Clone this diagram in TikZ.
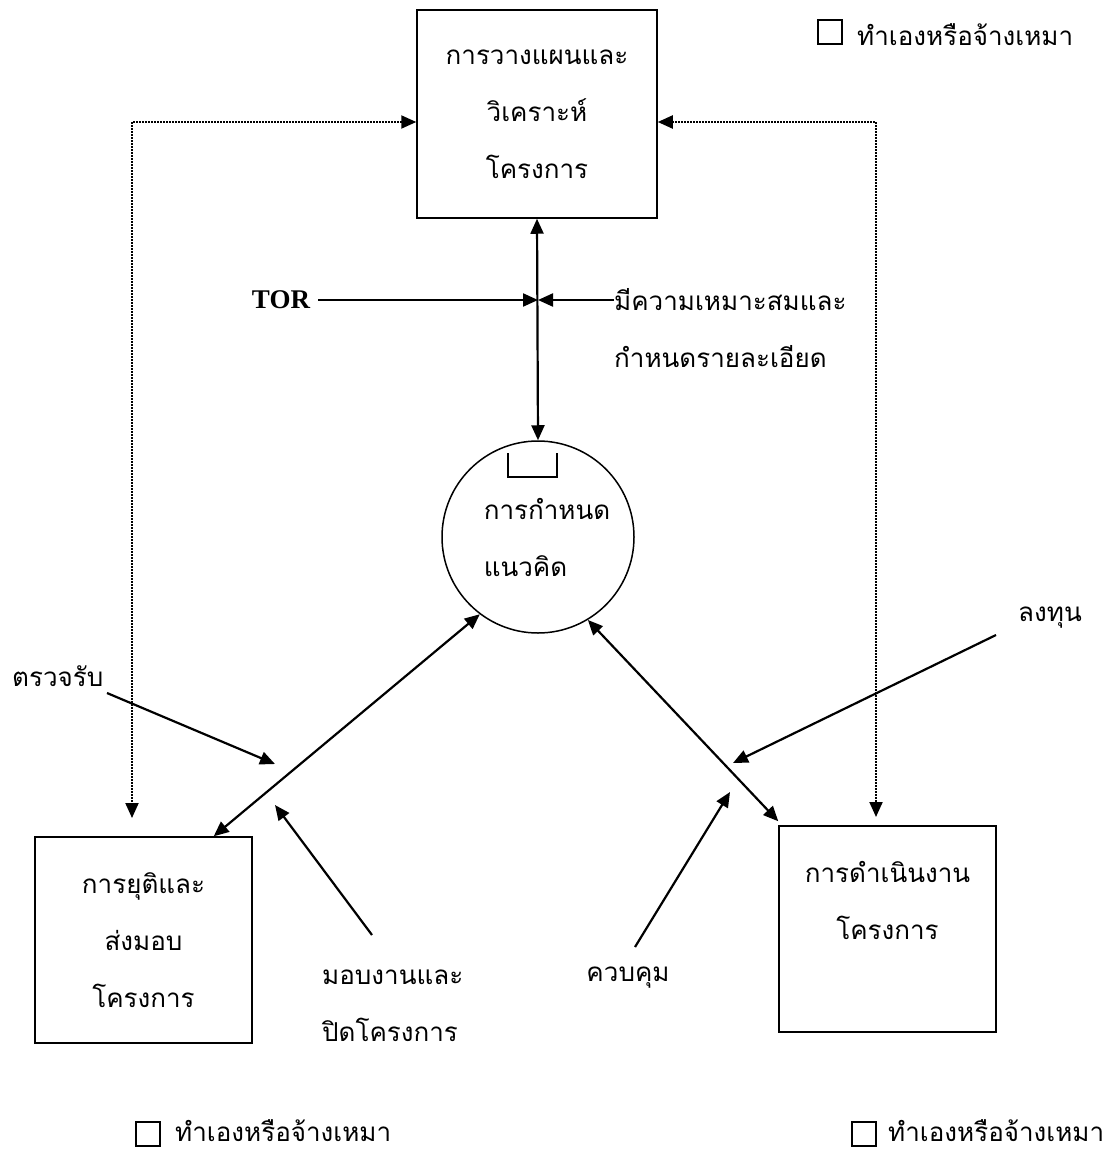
\documentclass[tikz,border=0pt]{standalone}
\usepackage{fontspec}
\setmainfont{Liberation Serif}
\newfontfamily\thaifont[Script=Thai]{Loma}
\usetikzlibrary{arrows.meta}

\begin{document}
\begin{tikzpicture}[x=1pt,y=-1pt,
	thaitext/.style={font=\thaifont\fontsize{26}{57}\selectfont},
	tip/.tip={Triangle[length=15pt,width=13pt]},
	arr/.style={line width=2.2pt,-tip},
	dotline/.style={line width=2pt,densely dotted}]

\useasboundingbox (0,0) rectangle (1112,1156);

\begin{scope}[every node/.style={thaitext,draw,line width=1.5pt,align=center,inner sep=0pt}]
	%Processes
	\node[rectangle,minimum width=240pt,minimum height=208pt] (plan) at (537,114) {การวางแผนและ\\วิเคราะห์\\โครงการ};
	\node[circle,minimum size=192pt,align=left] (concept) at (538,537) {\hspace*{18pt}การกำหนด\\\hspace*{18pt}แนวคิด};
	\node[rectangle,minimum width=217pt,minimum height=206pt] (closeout) at (143.5,940) {การยุติและ\\ส่งมอบ\\โครงการ};
	\node[rectangle,minimum width=217pt,minimum height=206pt] (execute) at (887.5,929) {การดำเนินงาน\\โครงการ\\\mbox{}};
\end{scope}

% bracket on top of the circle
\draw[line width=1.3pt] (508,453) -- (508,477) -- (557,477) -- (557,453);

\begin{scope}[every node/.style={thaitext,align=left,inner sep=0pt}]
	%Labels
	\node[font=\bfseries\fontsize{27}{30}\selectfont] (tor) at (281,300) {TOR};
	\node[anchor=west] (fit) at (614,328) {มีความเหมาะสมและ\\กำหนดรายละเอียด};
	\node[anchor=west] (accept) at (12,676) {ตรวจรับ};
	\node[anchor=west] (deliver) at (322,1006) {มอบงานและ\\ปิดโครงการ};
	\node (invest) at (1050,618) {ลงทุน};
	\node (control) at (628,978) {ควบคุม};
\end{scope}

\begin{scope}[every node/.style={inner sep=0pt}]
	%Legends
	\node[draw,line width=1.3pt,minimum size=24pt] (leg1) at (830,32) {};
	\node[thaitext,anchor=west] (legtext1) at (857,35) {ทำเองหรือจ้างเหมา};
	\node[draw,line width=1.3pt,minimum size=24pt] (leg2) at (148,1134) {};
	\node[thaitext,anchor=west] (legtext2) at (175,1131) {ทำเองหรือจ้างเหมา};
	\node[draw,line width=1.3pt,minimum size=24pt] (leg3) at (864,1134) {};
	\node[thaitext,anchor=west] (legtext3) at (888,1131) {ทำเองหรือจ้างเหมา};
\end{scope}

\coordinate (jn) at (538,300);
\coordinate (dl) at (132,122);
\coordinate (dlend) at (132,818);
\coordinate (dr) at (876,122);
\coordinate (drend) at (876,817);
\coordinate (acceptend) at (275,764);
\coordinate (deliverend) at (275,805);
\coordinate (investend) at (733,763);
\coordinate (controlend) at (730,792);

\begin{scope}[arr]
	%Main flow
	\draw[tip-tip] (plan.south) -- (concept.north);
	\draw[tip-tip] (concept.233) -- ([xshift=-39pt]closeout.north east);
	\draw[tip-tip] (concept.301) -- ([yshift=4pt]execute.north west);

	%Inputs
	\draw ([xshift=8pt]tor.east) -- (jn);
	\draw (fit.west |- jn) -- (jn);
	\draw ([xshift=95pt,yshift=-17pt]accept.west) -- (acceptend);
	\draw ([xshift=50pt,yshift=71pt]deliver.west) -- (deliverend);
	\draw ([xshift=-54pt,yshift=-17pt]invest.center) -- (investend);
	\draw ([xshift=7pt,yshift=31pt]control.center) -- (controlend);
\end{scope}

%Outsourcing links
\draw[dotline,tip-tip] (plan.west |- dl) -- (dl) -- (dlend);
\draw[dotline,tip-tip] (plan.east |- dr) -- (dr) -- (drend);

\end{tikzpicture}
\end{document}
